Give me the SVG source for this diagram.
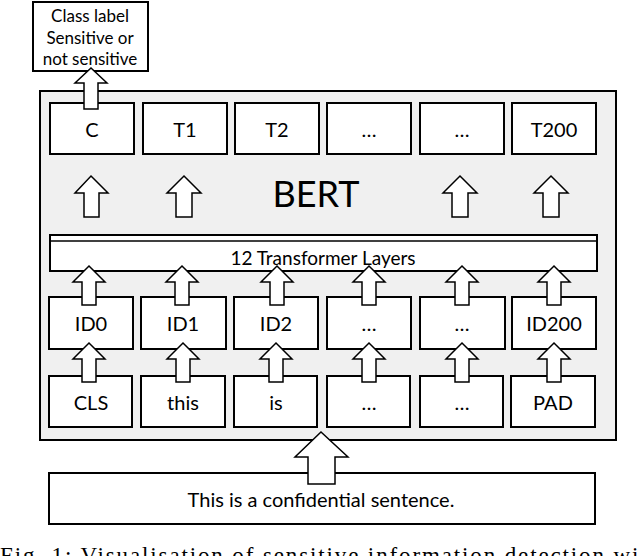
<svg xmlns="http://www.w3.org/2000/svg" width="640" height="556" viewBox="0 0 640 556">
<style>
.b{fill:#fff;stroke:#000;stroke-width:2}
.a{fill:#fff;stroke:#000;stroke-width:1.5;stroke-linejoin:miter}
text{font-family:Lato,"Open Sans",sans-serif;fill:#000;text-anchor:middle}
.t{font-size:20px}
</style>
<rect width="640" height="556" fill="#fff"/>
<g id="bert"><rect x="40" y="91" width="576" height="349" fill="#f0f0f0" stroke="#000" stroke-width="2"/>
<text x="316" y="207" font-size="36">BERT</text></g>
<g id="label"><rect class="b" x="33" y="2" width="115" height="69"/>
<text x="90" y="22" font-size="17">Class label</text><text x="90" y="44" font-size="17">Sensitive or</text><text x="90" y="65" font-size="17">not sensitive</text></g>
<g id="top">
<g id="nC"><rect class="b" x="50" y="103" width="84" height="51"/><text class="t" x="92" y="137">C</text></g>
<g id="nT1"><rect class="b" x="143" y="103" width="84" height="51"/><text class="t" x="185" y="137">T1</text></g>
<g id="nT2"><rect class="b" x="235" y="103" width="84" height="51"/><text class="t" x="277" y="137">T2</text></g>
<g id="nT3"><rect class="b" x="327" y="103" width="84" height="51"/><text class="t" x="369" y="137">…</text></g>
<g id="nT4"><rect class="b" x="420" y="103" width="84" height="51"/><text class="t" x="462" y="137">…</text></g>
<g id="nT200"><rect class="b" x="512" y="103" width="84" height="51"/><text class="t" x="554" y="137">T200</text></g>
</g>
<g id="transformer"><rect class="b" x="50" y="235" width="547" height="36"/><line x1="50" y1="241" x2="597" y2="241" stroke="#000" stroke-width="1.5"/>
<text x="323" y="265" font-size="19">12 Transformer Layers</text></g>
<g id="ids">
<g id="id0"><rect class="b" x="49" y="297" width="84" height="52"/><text class="t" x="91" y="331">ID0</text></g>
<g id="id1"><rect class="b" x="141" y="297" width="85" height="52"/><text class="t" x="183" y="331">ID1</text></g>
<g id="id2"><rect class="b" x="234" y="297" width="84" height="52"/><text class="t" x="276" y="331">ID2</text></g>
<g id="id3"><rect class="b" x="327" y="297" width="84" height="52"/><text class="t" x="369" y="331">…</text></g>
<g id="id4"><rect class="b" x="420" y="297" width="85" height="52"/><text class="t" x="462" y="331">…</text></g>
<g id="id200"><rect class="b" x="512" y="297" width="84" height="52"/><text class="t" x="554" y="331">ID200</text></g>
</g>
<g id="tokens">
<g id="cls"><rect class="b" x="49" y="376" width="83" height="51"/><text class="t" x="91" y="410">CLS</text></g>
<g id="this"><rect class="b" x="141" y="376" width="84" height="51"/><text class="t" x="183" y="410">this</text></g>
<g id="is"><rect class="b" x="234" y="376" width="83" height="51"/><text class="t" x="276" y="410">is</text></g>
<g id="k3"><rect class="b" x="327" y="376" width="83" height="51"/><text class="t" x="369" y="410">…</text></g>
<g id="k4"><rect class="b" x="420" y="376" width="83" height="51"/><text class="t" x="462" y="410">…</text></g>
<g id="pad"><rect class="b" x="511" y="376" width="84" height="51"/><text class="t" x="553" y="410">PAD</text></g>
</g>
<g id="sentence"><rect class="b" x="49" y="473" width="546" height="51"/><text x="321" y="507" font-size="20">This is a confidential sentence.</text></g>
<g id="connectors">
<path class="a" d="M91,68 L107,83 L98,83 L98,109 L84,109 L84,83 L75,83 Z"/>
<path class="a" d="M91,176 L108,193 L99,193 L99,217 L84,217 L84,193 L75,193 Z"/>
<path class="a" d="M184,176 L201,193 L192,193 L192,217 L176,217 L176,193 L167,193 Z"/>
<path class="a" d="M460,176 L477,193 L468,193 L468,217 L452,217 L452,193 L443,193 Z"/>
<path class="a" d="M551,176 L568,193 L559,193 L559,217 L543,217 L543,193 L534,193 Z"/>
<g id="idarrows">
<path class="a" d="M89,266 L105,282 L96,282 L96,305 L82,305 L82,282 L73,282 Z"/>
<path class="a" d="M182,266 L198,282 L189,282 L189,305 L175,305 L175,282 L166,282 Z"/>
<path class="a" d="M277,266 L293,282 L284,282 L284,305 L270,305 L270,282 L261,282 Z"/>
<path class="a" d="M369,266 L385,282 L376,282 L376,305 L362,305 L362,282 L353,282 Z"/>
<path class="a" d="M462,266 L478,282 L469,282 L469,305 L455,305 L455,282 L446,282 Z"/>
<path class="a" d="M554,266 L570,282 L561,282 L561,305 L547,305 L547,282 L538,282 Z"/>
</g>
<g id="tokarrows">
<path class="a" d="M89,343 L105,359 L96,359 L96,382 L82,382 L82,359 L73,359 Z"/>
<path class="a" d="M183,343 L199,359 L190,359 L190,382 L176,382 L176,359 L167,359 Z"/>
<path class="a" d="M276,343 L292,359 L283,359 L283,382 L269,382 L269,359 L260,359 Z"/>
<path class="a" d="M369,343 L385,359 L376,359 L376,382 L362,382 L362,359 L353,359 Z"/>
<path class="a" d="M462,343 L478,359 L469,359 L469,382 L455,382 L455,359 L446,359 Z"/>
<path class="a" d="M554,343 L570,359 L561,359 L561,382 L547,382 L547,359 L538,359 Z"/>
</g>
<path class="a" d="M321,432 L348,457 L335,457 L335,484 L308,484 L308,457 L295,457 Z"/>
</g>
<text x="0" y="563" font-size="23" textLength="660" lengthAdjust="spacing" style="font-family:'Liberation Serif',serif;text-anchor:start">Fig. 1: Visualisation of sensitive information detection with</text>
</svg>
